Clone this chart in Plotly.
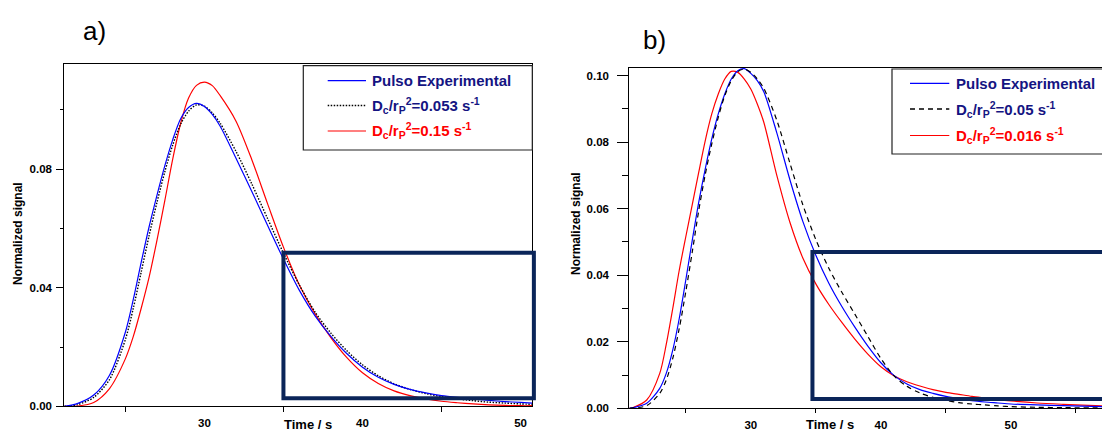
import plotly.graph_objects as go

W, H = 1102, 432

# ---------------- panel a) data ----------------
time_a = [21.14, 22, 23, 24, 25, 25.5, 26, 26.5, 27, 27.5, 28, 28.5, 29, 29.5, 30, 30.5,
          31, 32, 33, 34, 35, 36, 37, 38, 39, 40, 41, 42, 43, 44, 45, 46, 47, 48, 49, 50, 50.74]
pulse_a = [0.0000, 0.0010, 0.0038, 0.0105, 0.0250, 0.0360, 0.0485, 0.0605, 0.0712, 0.0812,
           0.0900, 0.0970, 0.1008, 0.1022, 0.1012, 0.0985, 0.0945, 0.0837, 0.0725, 0.0610,
           0.0497, 0.0392, 0.0305, 0.0236, 0.0178, 0.0132, 0.0098, 0.0074, 0.0057, 0.0045,
           0.0036, 0.0030, 0.0025, 0.0020, 0.0016, 0.0013, 0.0011]
fit_a_053 = [0.0000, 0.0006, 0.0030, 0.0090, 0.0225, 0.0330, 0.0452, 0.0575, 0.0688, 0.0792,
             0.0882, 0.0952, 0.0996, 0.1017, 0.1013, 0.0990, 0.0955, 0.0860, 0.0750, 0.0633,
             0.0517, 0.0410, 0.0318, 0.0247, 0.0188, 0.0140, 0.0103, 0.0076, 0.0057, 0.0043,
             0.0033, 0.0025, 0.0019, 0.0014, 0.0011, 0.0008, 0.0007]
fit_a_015 = [0.0000, 0.0001, 0.0013, 0.0060, 0.0160, 0.0235, 0.0330, 0.0435, 0.0560, 0.0695,
             0.0835, 0.0955, 0.1040, 0.1083, 0.1094, 0.1082, 0.1048, 0.0962, 0.0832, 0.0683,
             0.0537, 0.0410, 0.0312, 0.0232, 0.0165, 0.0113, 0.0077, 0.0052, 0.0036, 0.0025,
             0.0017, 0.0012, 0.0008, 0.0005, 0.0003, 0.0002, 0.0002]

# ---------------- panel b) data ----------------
time_b = [20.66, 21, 22, 23, 23.5, 24, 24.5, 25, 25.5, 26, 26.5, 27, 27.5, 28, 28.5, 29, 29.5,
          30, 30.5, 31, 32, 33, 34, 35, 36, 37, 38, 39, 40, 41, 42, 43, 44, 45, 46, 47, 48,
          49, 50, 52, 54, 57]
pulse_b = [0.0000, 0.0002, 0.0015, 0.0060, 0.0105, 0.0175, 0.0270, 0.0385, 0.0505, 0.0620,
           0.0720, 0.0810, 0.0885, 0.0945, 0.0990, 0.1015, 0.1021, 0.1007, 0.0985, 0.0952,
           0.0828, 0.0688, 0.0562, 0.0460, 0.0376, 0.0306, 0.0244, 0.0187, 0.0137, 0.0099,
           0.0073, 0.0056, 0.0045, 0.0036, 0.0029, 0.0023, 0.0019, 0.0016, 0.0013, 0.0010,
           0.0008, 0.0005]
fit_b_05 = [0.0000, 0.0001, 0.0008, 0.0045, 0.0085, 0.0150, 0.0240, 0.0350, 0.0470, 0.0595,
            0.0703, 0.0795, 0.0875, 0.0940, 0.0985, 0.1012, 0.1020, 0.1010, 0.0990, 0.0962,
            0.0866, 0.0738, 0.0612, 0.0507, 0.0421, 0.0349, 0.0283, 0.0216, 0.0150, 0.0098,
            0.0066, 0.0046, 0.0033, 0.0024, 0.0017, 0.0013, 0.0010, 0.0007, 0.0005, 0.0003,
            0.0002, 0.0001]
fit_b_016 = [0.0000, 0.0003, 0.0025, 0.0105, 0.0192, 0.0300, 0.0415, 0.0515, 0.0612, 0.0710,
             0.0805, 0.0885, 0.0945, 0.0990, 0.1013, 0.1010, 0.0990, 0.0960, 0.0915, 0.0860,
             0.0700, 0.0560, 0.0452, 0.0374, 0.0312, 0.0258, 0.0208, 0.0163, 0.0125, 0.0098,
             0.0080, 0.0067, 0.0056, 0.0048, 0.0042, 0.0036, 0.0031, 0.0026, 0.0022, 0.0016,
             0.0012, 0.0007]

# axis ranges
xrange_a, yrange_a = [21.14, 50.74], [0, 0.1154]
xrange_b, yrange_b = [20.66, 57.0], [0, 0.1024]

# tail windows highlighted in each panel (time, signal)
tail_a = dict(t0=35.0, t1=50.84, s0=0.0027, s1=0.0518)
tail_b = dict(t0=34.74, t1=58.5, s0=0.0028, s1=0.047)

BLUE, RED, BLACK = "#0000ff", "#ff0000", "#000000"
NAVY_TXT = "#141482"
BOX = "#0b2559"
FONT = "Liberation Sans"


def px_x(px):
    return px / W


def px_y(py):
    return 1 - py / H


fig = go.Figure()

series_a = [
    (pulse_a, BLUE, "solid", "Pulso Experimental", NAVY_TXT),
    (fit_a_053, BLACK, "1.5px,1.5px", "D<sub>c</sub>/r<sub>P</sub><sup>2</sup>=0.053 s<sup>-1</sup>", NAVY_TXT),
    (fit_a_015, RED, "solid", "D<sub>c</sub>/r<sub>P</sub><sup>2</sup>=0.15 s<sup>-1</sup>", RED),
]
series_b = [
    (pulse_b, BLUE, "solid", "Pulso Experimental", NAVY_TXT),
    (fit_b_05, BLACK, "5px,4px", "D<sub>c</sub>/r<sub>P</sub><sup>2</sup>=0.05 s<sup>-1</sup>", NAVY_TXT),
    (fit_b_016, RED, "solid", "D<sub>c</sub>/r<sub>P</sub><sup>2</sup>=0.016 s<sup>-1</sup>", RED),
]

for i in [2, 1, 0]:
    ys, col, dash, name, _ = series_a[i]
    fig.add_trace(go.Scatter(x=time_a, y=ys, mode="lines", name=name, showlegend=False,
                             line=dict(color=col, width=1.4 if dash != "solid" else 1.2,
                                       dash=dash, shape="spline", smoothing=0.8),
                             xaxis="x", yaxis="y"))
for i in [2, 0, 1]:
    ys, col, dash, name, _ = series_b[i]
    fig.add_trace(go.Scatter(x=time_b, y=ys, mode="lines", name=name, showlegend=False,
                             line=dict(color=col, width=1.2, dash=dash, shape="spline",
                                       smoothing=0.8),
                             xaxis="x2", yaxis="y2"))

tick_font = dict(family=FONT, size=11.5, color="black", weight="bold")
common_x = dict(showgrid=False, zeroline=False, showline=True, linecolor="black", linewidth=1,
                mirror=True, ticks="", tickvals=[30, 40, 50], tickfont=tick_font,
                ticklabelstandoff=6, fixedrange=True, automargin=False)
common_y = dict(showgrid=False, zeroline=False, showline=True, linecolor="black", linewidth=1,
                ticks="outside", tickcolor="black", tickformat=".2f", tickfont=tick_font,
                fixedrange=True, automargin=False)

fig.update_layout(
    width=W, height=H, autosize=False,
    margin=dict(l=0, r=0, t=0, b=0, pad=0, autoexpand=False),
    paper_bgcolor="white", plot_bgcolor="white",
    showlegend=False,
    xaxis=dict(common_x, domain=[px_x(64.3), px_x(532.3)], range=xrange_a, anchor="y",
               minor=dict(tickvals=[25, 35, 45], ticks="outside", ticklen=5,
                          tickcolor="black", tickwidth=1)),
    yaxis=dict(common_y, domain=[px_y(406.3), px_y(64.3)], range=yrange_a, anchor="x",
               mirror=True, tickvals=[0, 0.04, 0.08], ticklen=7, ticklabelstandoff=2,
               minor=dict(tickvals=[0.02, 0.06, 0.10], ticks="outside", ticklen=3.5,
                          tickcolor="black")),
    xaxis2=dict(common_x, domain=[px_x(629.3), 1.0], range=xrange_b, anchor="y2",
                minor=dict(tickvals=[25, 35, 45, 55], ticks="outside", ticklen=4,
                           tickcolor="black", tickwidth=1)),
    yaxis2=dict(common_y, domain=[px_y(408.3), px_y(67.7)], range=yrange_b, anchor="x2",
                mirror=False, tickvals=[0, 0.02, 0.04, 0.06, 0.08, 0.10], ticklen=11,
                ticklabelstandoff=6,
                minor=dict(tickvals=[0.01, 0.03, 0.05, 0.07, 0.09], ticks="outside",
                           ticklen=6, tickcolor="black")),
)


def to_domain(v, rng):
    return (v - rng[0]) / (rng[1] - rng[0])


shapes = []
annotations = []

# highlighted tail windows
for win, xr, yr, xa, ya in [(tail_a, xrange_a, yrange_a, "x", "y"),
                            (tail_b, xrange_b, yrange_b, "x2", "y2")]:
    shapes.append(dict(type="rect", xref=f"{xa} domain", yref=f"{ya} domain",
                       x0=to_domain(win["t0"], xr), x1=to_domain(win["t1"], xr),
                       y0=to_domain(win["s0"], yr), y1=to_domain(win["s1"], yr),
                       line=dict(color=BOX, width=4), fillcolor="rgba(0,0,0,0)",
                       layer="above"))

# legend boxes (pixel layout)
legends = [
    dict(series=series_a, box=(303.3, 65.7, 532.3, 150.0), line=(327.7, 366.0),
         text_x=370.0, rows=[80.7, 105.5, 131.0]),
    dict(series=series_b, box=(892.0, 69.0, 1110.0, 154.0), line=(910.0, 949.3),
         text_x=953.5, rows=[83.3, 109.0, 135.5]),
]
for lg in legends:
    x0, y0, x1, y1 = lg["box"]
    shapes.append(dict(type="rect", xref="paper", yref="paper",
                       x0=px_x(x0), x1=px_x(x1), y0=px_y(y1), y1=px_y(y0),
                       line=dict(color="#222222", width=1.2), fillcolor="white",
                       layer="above"))
    for (ys, col, dash, name, tcol), ry in zip(lg["series"], lg["rows"]):
        lw = 1.4 if dash != "solid" else 1.2
        shapes.append(dict(type="line", xref="paper", yref="paper",
                           x0=px_x(lg["line"][0]), x1=px_x(lg["line"][1]),
                           y0=px_y(ry), y1=px_y(ry),
                           line=dict(color=col, width=lw, dash=dash), layer="above"))
        annotations.append(dict(xref="paper", yref="paper", x=px_x(lg["text_x"]),
                                y=px_y(ry), xanchor="left", yanchor="middle",
                                text=f"<b>{name}</b>", showarrow=False,
                                font=dict(family=FONT, size=15, color=tcol)))

# axis titles and panel letters
title_font = dict(family=FONT, size=12, color="black", weight="bold")
annotations += [
    dict(xref="paper", yref="paper", x=px_x(18), y=px_y(234), text="Normalized signal",
         textangle=-90, showarrow=False, font=title_font, xanchor="center", yanchor="middle"),
    dict(xref="paper", yref="paper", x=px_x(576), y=px_y(224), text="Normalized signal",
         textangle=-90, showarrow=False, font=title_font, xanchor="center", yanchor="middle"),
    dict(xref="paper", yref="paper", x=px_x(308), y=px_y(424.5), text="Time / s",
         showarrow=False, font=dict(title_font, size=13), xanchor="center", yanchor="middle"),
    dict(xref="paper", yref="paper", x=px_x(830), y=px_y(424), text="Time / s",
         showarrow=False, font=dict(title_font, size=13), xanchor="center", yanchor="middle"),
    dict(xref="paper", yref="paper", x=px_x(94), y=px_y(31), text="a)", showarrow=False,
         font=dict(family=FONT, size=26, color="black"), xanchor="center", yanchor="middle"),
    dict(xref="paper", yref="paper", x=px_x(654), y=px_y(40), text="b)", showarrow=False,
         font=dict(family=FONT, size=26, color="black"), xanchor="center", yanchor="middle"),
]

fig.update_layout(shapes=shapes, annotations=annotations)
fig.write_html("out.html", config=dict(responsive=False, displayModeBar=False))
